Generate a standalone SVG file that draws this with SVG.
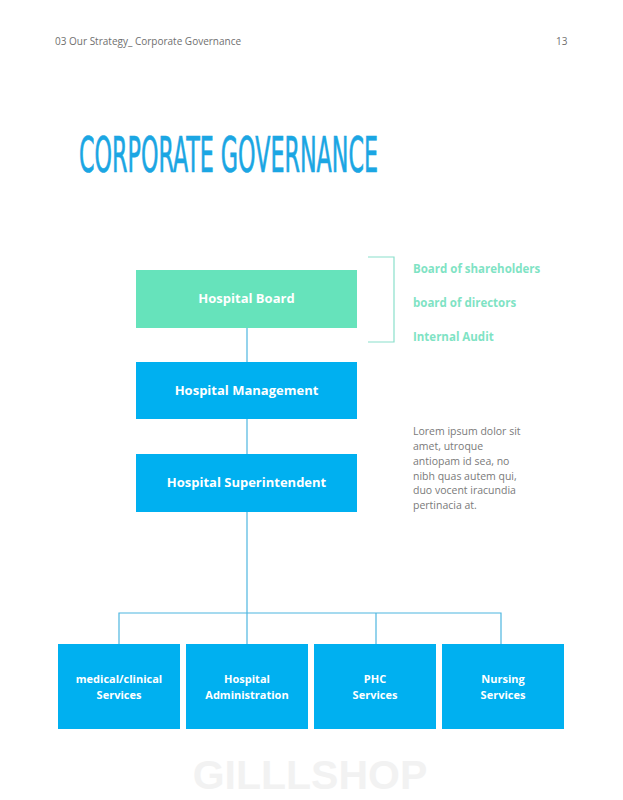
<svg xmlns="http://www.w3.org/2000/svg" width="623" height="800" viewBox="0 0 623 800">
<style>
.hdr{font-family:"Open Sans","Liberation Sans",sans-serif;font-size:10px;fill:#6f6f6f}
.bx{fill:#00B0F0}
.gbx{fill:#66E3BB}
.bt{font-family:"Open Sans","Liberation Sans",sans-serif;font-weight:bold;font-size:13px;fill:#fff;text-anchor:middle}
.st{font-family:"Open Sans","Liberation Sans",sans-serif;font-weight:bold;font-size:11px;fill:#fff;text-anchor:middle}
.gl{font-family:"Open Sans","Liberation Sans",sans-serif;font-weight:bold;font-size:11.5px;fill:#7FE3C4}
.lor{font-family:"Open Sans","Liberation Sans",sans-serif;font-size:10.5px;fill:#7a7a7a}
.ln{stroke:#4DB6E0;stroke-width:1.2;fill:none}
</style>
<rect width="623" height="800" fill="#fff"/>
<text class="hdr" x="55" y="45">03 Our Strategy_ Corporate Governance</text>
<text class="hdr" x="556" y="45">13</text>
<text x="79" y="86" transform="scale(1,2)" font-family="DejaVu Sans Condensed,DejaVu Sans,sans-serif" font-size="25" fill="#1BA6E3" stroke="#1BA6E3" stroke-width="0.35" textLength="299" lengthAdjust="spacingAndGlyphs">CORPORATE GOVERNANCE</text>
<text x="310" y="789" font-family="Liberation Sans,Arial,sans-serif" font-weight="bold" font-size="41" fill="#F2F2F2" text-anchor="middle">GILLLSHOP</text>
<g id="connectors">
<line class="ln" x1="247" y1="328" x2="247" y2="362" stroke="#8ADCD6"/>
<line class="ln" x1="247" y1="419" x2="247" y2="454"/>
<line class="ln" x1="247" y1="512" x2="247" y2="644"/>
<polyline class="ln" points="119,644 119,613 501,613 501,644"/>
<line class="ln" x1="376" y1="613" x2="376" y2="644"/>
<polyline points="368,257 394,257 394,342 368,342" fill="none" stroke="#8ADFCB" stroke-width="1.2"/>
</g>
<g id="board"><rect class="gbx" x="136" y="270" width="221" height="58"/><text class="bt" x="246.5" y="303">Hospital Board</text></g>
<g id="management"><rect class="bx" x="136" y="362" width="221" height="57"/><text class="bt" x="246.5" y="395">Hospital Management</text></g>
<g id="superintendent"><rect class="bx" x="136" y="454" width="221" height="58"/><text class="bt" x="246.5" y="487">Hospital Superintendent</text></g>
<g id="board-members">
<text class="gl" x="413" y="273">Board of shareholders</text>
<text class="gl" x="413" y="307">board of directors</text>
<text class="gl" x="413" y="341">Internal Audit</text>
</g>
<g id="note">
<text class="lor" x="413" y="435">Lorem ipsum dolor sit</text>
<text class="lor" x="413" y="450">amet, utroque</text>
<text class="lor" x="413" y="465">antiopam id sea, no</text>
<text class="lor" x="413" y="480">nibh quas autem qui,</text>
<text class="lor" x="413" y="494">duo vocent iracundia</text>
<text class="lor" x="413" y="509">pertinacia at.</text>
</g>
<g id="medical"><rect class="bx" x="58" y="644" width="122" height="85"/><text class="st" x="119" y="683">medical/clinical</text><text class="st" x="119" y="699">Services</text></g>
<g id="administration"><rect class="bx" x="186" y="644" width="122" height="85"/><text class="st" x="247" y="683">Hospital</text><text class="st" x="247" y="699">Administration</text></g>
<g id="phc"><rect class="bx" x="314" y="644" width="122" height="85"/><text class="st" x="375" y="683">PHC</text><text class="st" x="375" y="699">Services</text></g>
<g id="nursing"><rect class="bx" x="442" y="644" width="122" height="85"/><text class="st" x="503" y="683">Nursing</text><text class="st" x="503" y="699">Services</text></g>
</svg>
